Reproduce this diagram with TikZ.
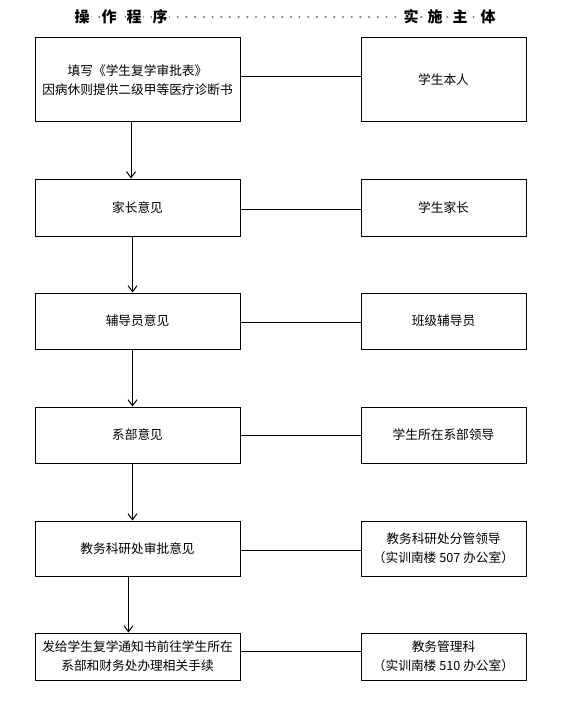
\documentclass[tikz,border=0pt]{standalone}
\usepackage{fontspec}
\newfontfamily\cjk{Noto Sans CJK SC}
\usetikzlibrary{arrows.meta}

\begin{document}
\begin{tikzpicture}[x=1pt,y=-1pt,
  stepbox/.style={draw,line width=1pt,minimum width=205pt,inner sep=2pt,align=center,font=\cjk\fontsize{12.7}{19}\selectfont},
  whobox/.style={stepbox,minimum width=165pt},
  titlechar/.style={fill=white,inner sep=1pt,font=\cjk\bfseries\fontsize{15}{16}\selectfont},
  link/.style={line width=1pt},
  flow/.style={line width=1pt,-{Straight Barb[length=6pt,width=9pt]}}]
\fill[white] (0,0) rectangle (560,706);
\useasboundingbox (0,0) rectangle (560,706);
\draw[gray,line width=2.4pt,line cap=round,dash pattern=on 0pt off 8.7pt] (82,17) -- (488,17);
\foreach \c/\x in {操/82,作/109,程/134,序/160,实/411,施/435,主/460,体/488}
  \node[titlechar] (t\x) at (\x,17) {\c};
\node[stepbox,minimum height=84pt] (s1) at (137.5,80) {填写《学生复学审批表》\\因病休则提供二级甲等医疗诊断书};
\node[whobox,minimum height=84pt] (w1) at (443.5,80) {学生本人};
\node[stepbox,minimum height=57pt] (s2) at (137.5,207.5) {家长意见};
\node[whobox,minimum height=57pt] (w2) at (443.5,207.5) {学生家长};
\node[stepbox,minimum height=56pt] (s3) at (137.5,321) {辅导员意见};
\node[whobox,minimum height=56pt] (w3) at (443.5,321) {班级辅导员};
\node[stepbox,minimum height=56pt] (s4) at (137.5,435) {系部意见};
\node[whobox,minimum height=56pt] (w4) at (443.5,435) {学生所在系部领导};
\node[stepbox,minimum height=55pt] (s5) at (137.5,548.5) {教务科研处审批意见};
\node[whobox,minimum height=55pt] (w5) at (443.5,548.5) {教务科研处分管领导\\（实训南楼 507 办公室）};
\node[stepbox,minimum height=47pt] (s6) at (137.5,656.5) {发给学生复学通知书前往学生所在\\系部和财务处办理相关手续};
\node[whobox,minimum height=47pt] (w6) at (443.5,656.5) {教务管理科\\（实训南楼 510 办公室）};
\foreach \i/\dy in {1/3,2/-1.5,3/-1,4/0,5/-1.5,6/5.5}
  \draw[link] ([yshift=\dy pt]s\i.east) -- ([yshift=\dy pt]w\i.west);
\foreach \a/\b/\dx in {s1/s2/-6.5,s2/s3/-5,s3/s4/-5,s4/s5/-5,s5/s6/-9}
  \draw[flow] ([xshift=\dx pt]\a.south) -- ([xshift=\dx pt]\b.north);
\end{tikzpicture}
\end{document}
